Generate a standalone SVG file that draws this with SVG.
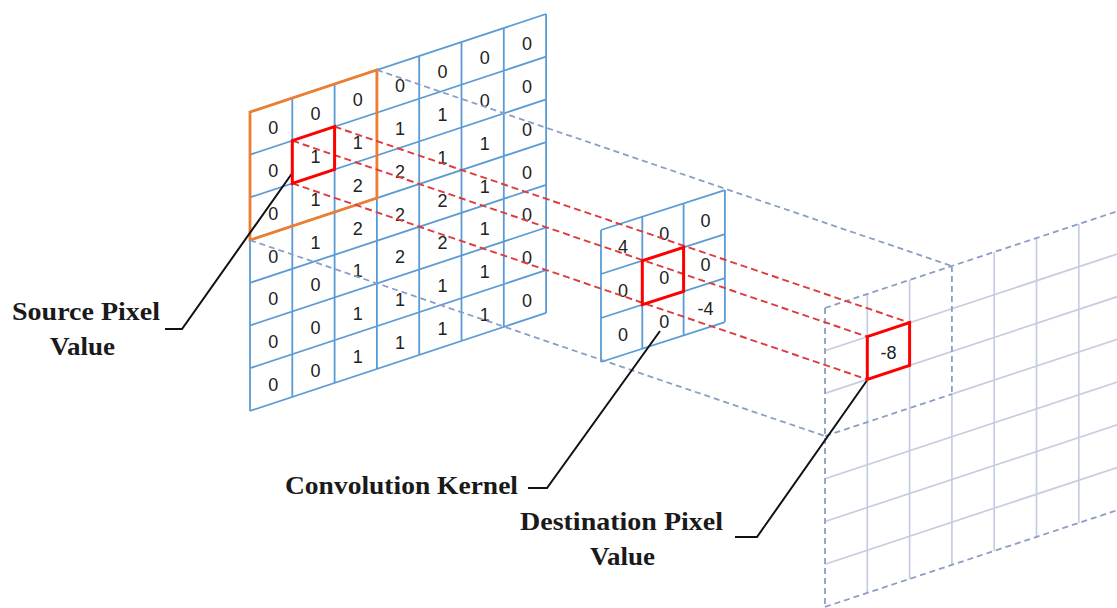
<svg xmlns="http://www.w3.org/2000/svg" width="1117" height="608" viewBox="0 0 1117 608">
<style>
.bg{fill:#ffffff}
.grid{stroke:#5B9BD5;stroke-width:1.8;fill:none}
.dgrid{stroke:#C6CCE2;stroke-width:1.7;fill:none}
.ddash{stroke:#8A9FC4;stroke-width:1.8;fill:none;stroke-dasharray:6 4}
.persp{stroke:#8A9FC4;stroke-width:1.8;fill:none;stroke-dasharray:6 4}
.rdash{stroke:#DC3C3C;stroke-width:1.9;fill:none;stroke-dasharray:7 4}
.orange{stroke:#ED7D31;stroke-width:2.8;fill:none}
.red{stroke:#FF0000;stroke-width:3;fill:none}
.lead{stroke:#111111;stroke-width:2;fill:none}
.num{font-family:"Liberation Sans",Arial,sans-serif;font-size:18px;fill:#222222;text-anchor:middle}
.lbl{font-family:"Liberation Serif","Times New Roman",serif;font-size:25px;font-weight:bold;fill:#1a1a1a}
</style>
<rect class="bg" x="0" y="0" width="1117" height="608"/>

<g id="source">
<path class="grid" d="M250,112V410.9 M292.3,98V396.9 M334.6,84V382.9 M376.9,70V368.9 M419.2,56V354.9 M461.5,42V340.9 M503.8,28V326.9 M546.1,14V312.9
M250,112L546.1,14 M250,154.7L546.1,56.7 M250,197.4L546.1,99.4 M250,240.1L546.1,142.1 M250,282.8L546.1,184.8 M250,325.5L546.1,227.5 M250,368.2L546.1,270.2 M250,410.9L546.1,312.9"/>
<polygon class="orange" points="250,112 376.9,70 376.9,198.1 250,240.1"/>
<g class="num">
<text x="273.2" y="134.4">0</text><text x="273.2" y="177.1">0</text><text x="273.2" y="219.8">0</text><text x="273.2" y="262.5">0</text><text x="273.2" y="305.2">0</text><text x="273.2" y="347.9">0</text><text x="273.2" y="390.6">0</text>
<text x="315.5" y="120.4">0</text><text x="315.5" y="163.1">1</text><text x="315.5" y="205.8">1</text><text x="315.5" y="248.5">1</text><text x="315.5" y="291.2">0</text><text x="315.5" y="333.9">0</text><text x="315.5" y="376.6">0</text>
<text x="357.8" y="106.4">0</text><text x="357.8" y="149.1">1</text><text x="357.8" y="191.8">2</text><text x="357.8" y="234.5">2</text><text x="357.8" y="277.2">1</text><text x="357.8" y="319.9">1</text><text x="357.8" y="362.6">1</text>
<text x="400.1" y="92.4">0</text><text x="400.1" y="135.1">1</text><text x="400.1" y="177.8">2</text><text x="400.1" y="220.5">2</text><text x="400.1" y="263.2">2</text><text x="400.1" y="305.9">1</text><text x="400.1" y="348.6">1</text>
<text x="442.4" y="78.4">0</text><text x="442.4" y="121.1">1</text><text x="442.4" y="163.8">1</text><text x="442.4" y="206.5">2</text><text x="442.4" y="249.2">2</text><text x="442.4" y="291.9">1</text><text x="442.4" y="334.6">1</text>
<text x="484.7" y="64.4">0</text><text x="484.7" y="107.1">0</text><text x="484.7" y="149.8">1</text><text x="484.7" y="192.5">1</text><text x="484.7" y="235.2">1</text><text x="484.7" y="277.9">1</text><text x="484.7" y="320.6">1</text>
<text x="527" y="50.4">0</text><text x="527" y="93.1">0</text><text x="527" y="135.8">0</text><text x="527" y="178.5">0</text><text x="527" y="221.2">0</text><text x="527" y="263.9">0</text><text x="527" y="306.6">0</text>
</g>
</g>

<g id="destination">
<path class="dgrid" d="M867.3,294V592.9 M909.6,280V578.9 M951.9,394.1V564.9 M994.2,252V550.9 M1036.5,238V536.9 M1078.8,224V522.9
M825,350.7L1121.1,252.7 M825,393.4L1121.1,295.4 M951.9,394.1L1121.1,338.1 M825,478.8L1121.1,380.8 M825,521.5L1121.1,423.5 M825,564.2L1121.1,466.2"/>
<path class="ddash" d="M825,308V606.9 M825,308L1121.1,210 M825,606.9L1121.1,508.9 M951.9,266V394.1 M825,436.1L951.9,394.1"/>
</g>

<g id="kernel">
<path class="grid" d="M601,230V362 M642.3,216.7V348.7 M683.6,203.4V335.4 M724.9,190.1V322.1
M601,230L724.9,190.1 M601,274L724.9,234.1 M601,318L724.9,278.1 M601,362L724.9,322.1"/>
<g class="num">
<text x="623" y="253.4">4</text><text x="623" y="297.4">0</text><text x="623" y="341.4">0</text>
<text x="664.3" y="240.1">0</text><text x="664.3" y="284.1">0</text><text x="664.3" y="328.1">0</text>
<text x="705.6" y="226.8">0</text><text x="705.6" y="270.8">0</text><text x="705.6" y="314.8">-4</text>
</g>
</g>

<g id="connectors">
<path class="persp" d="M376.9,70L951.9,266 M250,240.1L825,436.1"/>
<path class="rdash" d="M334.6,126.7L909.6,322.7 M292.3,140.7L867.3,336.7 M292.3,183.4L867.3,379.4"/>
<path class="lead" d="M292.3,173L182,329H165 M660,331L547,488H528 M867.3,380L757,537H735"/>
</g>

<g id="highlights">
<polygon class="red" points="292.3,140.7 334.6,126.7 334.6,169.4 292.3,183.4"/>
<polygon class="red" points="642.3,260.7 683.6,247.4 683.6,291.4 642.3,304.7"/>
<polygon class="red" points="867.3,336.7 909.6,322.7 909.6,365.4 867.3,379.4"/>
<text class="num" x="888.5" y="359">-8</text>
</g>

<g id="label-source">
<text class="lbl" x="12" y="320" textLength="148" lengthAdjust="spacingAndGlyphs">Source Pixel</text>
<text class="lbl" x="50" y="355" textLength="65" lengthAdjust="spacingAndGlyphs">Value</text>
</g>
<g id="label-kernel">
<text class="lbl" x="285" y="494" textLength="233" lengthAdjust="spacingAndGlyphs">Convolution Kernel</text>
</g>
<g id="label-destination">
<text class="lbl" x="520" y="530" textLength="203" lengthAdjust="spacingAndGlyphs">Destination Pixel</text>
<text class="lbl" x="590" y="565" textLength="65" lengthAdjust="spacingAndGlyphs">Value</text>
</g>
</svg>
